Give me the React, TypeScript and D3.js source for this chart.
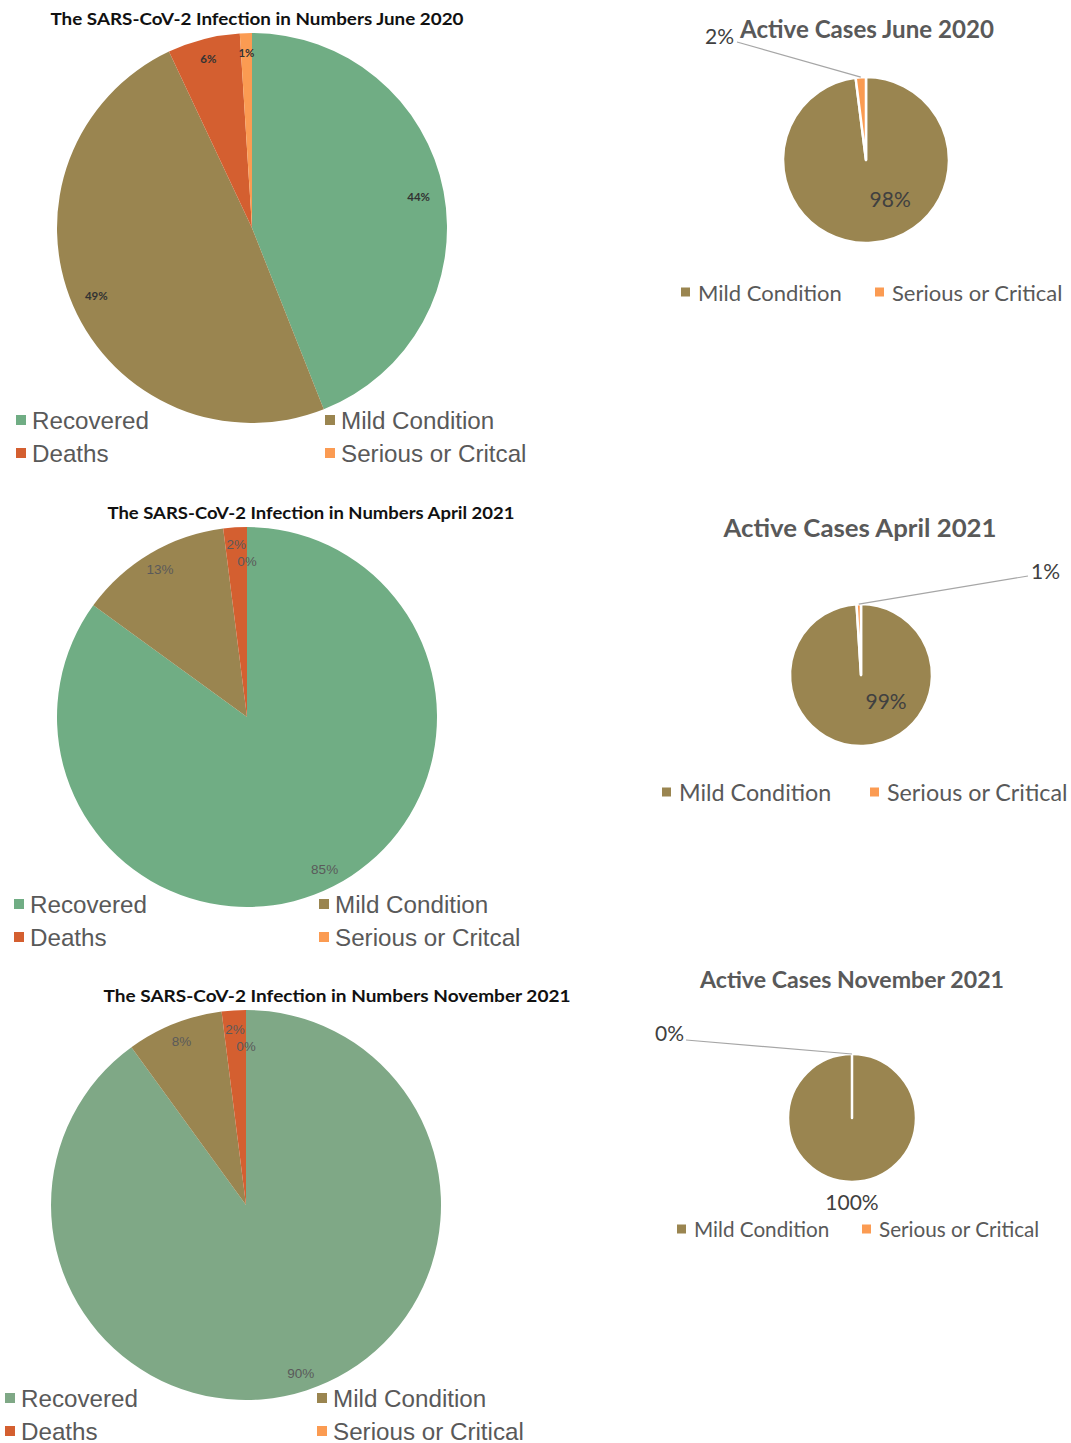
import * as d3 from 'd3';

// infection breakdown, % of total cases
const infectionCategories = ['Recovered', 'Mild Condition', 'Deaths', 'Serious or Critcal'];
const infectionCategoriesNov = ['Recovered', 'Mild Condition', 'Deaths', 'Serious or Critical'];
const infectionJun2020 = [44, 49, 6, 1];
const infectionApr2021 = [85, 13, 2, 0];
const infectionNov2021 = [90, 8, 2, 0];

// active cases breakdown
const activeCategories = ['Mild Condition', 'Serious or Critical'];
const activeJun2020 = [98, 2];
const activeApr2021 = [99, 1];
const activeNov2021 = [100, 0];

const GREEN = '#70ad84';
const OLIVE = '#9a8550';
const RED = '#d45f30';
const ORANGE = '#fb9b52';
const GREY = '#595959';

const pie = d3.pie<number>().sort(null).value((d) => d);

const pt = (cx: number, cy: number, r: number, a: number) => [cx + r * Math.sin(a), cy - r * Math.cos(a)];

interface InfProps {
  title: string;
  titleX: number;
  titleY: number;
  titleW: number;
  values: number[];
  cats: string[];
  cx: number;
  cy: number;
  r: number;
  green: string;
  labelR: number[];
  labelStyle: { size: number; weight: string; fill: string; font: string };
  leg: { x1: number; x2: number; y1: number; y2: number };
}

const InfectionPie = (p: InfProps) => {
  const arcs = pie(p.values);
  const arc = d3.arc<d3.PieArcDatum<number>>().innerRadius(0).outerRadius(p.r);
  const colors = [p.green, OLIVE, RED, ORANGE];
  const legPos = [
    [p.leg.x1, p.leg.y1],
    [p.leg.x2, p.leg.y1],
    [p.leg.x1, p.leg.y2],
    [p.leg.x2, p.leg.y2],
  ];
  return (
    <g>
      <text x={p.titleX} y={p.titleY} textAnchor="middle" dominantBaseline="central" fontFamily="Lato" fontWeight="bold"
        fontSize={17} fill="#111" textLength={p.titleW} lengthAdjust="spacingAndGlyphs">{p.title}</text>
      <g transform={`translate(${p.cx},${p.cy})`}>
        {arcs.map((a, i) => (
          <path key={i} d={arc(a)!} fill={colors[i]} />
        ))}
        {arcs.map((a, i) => {
          const m = (a.startAngle + a.endAngle) / 2;
          const [x, y] = pt(0, 0, p.r * p.labelR[i], m);
          return (
            <text key={i} x={x} y={y} textAnchor="middle" dominantBaseline="central" fontSize={p.labelStyle.size}
              fontWeight={p.labelStyle.weight} fill={p.labelStyle.fill} fontFamily={p.labelStyle.font}>
              {p.values[i]}%
            </text>
          );
        })}
      </g>
      {p.cats.map((c, i) => (
        <g key={c} transform={`translate(${legPos[i][0]},${legPos[i][1]})`}>
          <rect x={0} y={-5} width={10} height={10} fill={colors[i]} />
          <text x={16} y={0} dominantBaseline="central" fontFamily="Liberation Sans, Arial" fontSize={24.2} fill={GREY}>{c}</text>
        </g>
      ))}
    </g>
  );
};

interface ActProps {
  title: string;
  titleY: number;
  titleX: number;
  titleW: number;
  titleSize: number;
  values: number[];
  cx: number;
  cy: number;
  r: number;
  main: { angle: number; f: number };
  small: { x: number; y: number; anchor: string; lx: number; ly: number };
  leg: { x1: number; x2: number; y: number; size: number };
}

const ActivePie = (p: ActProps) => {
  const arcs = pie(p.values);
  const arc = d3.arc<d3.PieArcDatum<number>>().innerRadius(0).outerRadius(p.r);
  const colors = [OLIVE, ORANGE];
  const [mx, my] = pt(p.cx, p.cy, p.r * p.main.f, (p.main.angle * Math.PI) / 180);
  const s = arcs[1];
  const [ex, ey] = pt(p.cx, p.cy, p.r, (s.startAngle + s.endAngle) / 2);
  return (
    <g>
      <text x={p.titleX} y={p.titleY} textAnchor="middle" dominantBaseline="central" fontFamily="Lato" fontWeight="bold"
        fontSize={p.titleSize} fill={GREY} textLength={p.titleW} lengthAdjust="spacingAndGlyphs">{p.title}</text>
      <g transform={`translate(${p.cx},${p.cy})`}>
        {arcs.map((a, i) => (
          <path key={i} d={arc(a)!} fill={colors[i]} stroke="#fff" strokeWidth={2.5} strokeLinejoin="round" />
        ))}
      </g>
      <text x={mx} y={my} textAnchor="middle" dominantBaseline="central" fontFamily="Lato" fontSize={21} fill="#404040">
        {p.values[0]}%
      </text>
      <line x1={p.small.lx} y1={p.small.ly} x2={ex} y2={ey} stroke="#a6a6a6" strokeWidth={1.2} />
      <text x={p.small.x} y={p.small.y} textAnchor={p.small.anchor as any} dominantBaseline="central" fontFamily="Lato"
        fontSize={21} fill="#404040">{p.values[1]}%</text>
      {activeCategories.map((c, i) => (
        <g key={c} transform={`translate(${i === 0 ? p.leg.x1 : p.leg.x2},${p.leg.y})`}>
          <rect x={0} y={-4.5} width={9} height={9} fill={colors[i]} />
          <text x={17} y={0} dominantBaseline="central" fontFamily="Lato" fontSize={p.leg.size} fill={GREY}>{c}</text>
        </g>
      ))}
    </g>
  );
};

const boldLbl = { size: 11.5, weight: 'bold', fill: '#333', font: 'Lato' };
const thinLbl = { size: 13.5, weight: 'normal', fill: '#5a5a5a', font: 'Liberation Sans, Arial' };

export default function App() {
  return (
    <svg width={1071} height={1443} viewBox="0 0 1071 1443" style={{ position: 'absolute', left: 0, top: 0, background: '#fff' }}>
      <rect width={1071} height={1443} fill="#fff" />
      <InfectionPie title="The SARS-CoV-2 Infection in Numbers June 2020" titleX={257} titleY={18} titleW={413}
        values={infectionJun2020} cats={infectionCategories} cx={252} cy={228} r={195} green={GREEN}
        labelR={[0.87, 0.87, 0.9, 0.9]} labelStyle={boldLbl} leg={{ x1: 16, x2: 325, y1: 420, y2: 453 }} />
      <InfectionPie title="The SARS-CoV-2 Infection in Numbers April 2021" titleX={311} titleY={512} titleW={407}
        values={infectionApr2021} cats={infectionCategories} cx={247} cy={717} r={190} green={GREEN}
        labelR={[0.9, 0.9, 0.91, 0.82]} labelStyle={thinLbl} leg={{ x1: 14, x2: 319, y1: 904, y2: 937 }} />
      <InfectionPie title="The SARS-CoV-2 Infection in Numbers November 2021" titleX={337} titleY={995} titleW={467}
        values={infectionNov2021} cats={infectionCategoriesNov} cx={246} cy={1205} r={195} green="#7fa886"
        labelR={[0.91, 0.9, 0.9, 0.815]} labelStyle={thinLbl} leg={{ x1: 5, x2: 317, y1: 1398, y2: 1431 }} />

      <ActivePie title="Active Cases June 2020" titleX={867} titleY={28} titleW={254} titleSize={24}
        values={activeJun2020} cx={866} cy={160} r={83} main={{ angle: 148, f: 0.55 }}
        small={{ x: 734, y: 35, anchor: 'end', lx: 737, ly: 42 }} leg={{ x1: 681, x2: 875, y: 292, size: 22 }} />
      <ActivePie title="Active Cases April 2021" titleX={860} titleY={527} titleW={273} titleSize={24}
        values={activeApr2021} cx={861} cy={675} r={71} main={{ angle: 135, f: 0.5 }}
        small={{ x: 1031, y: 570, anchor: 'start', lx: 1028, ly: 576 }} leg={{ x1: 662, x2: 870, y: 792, size: 23.3 }} />
      <ActivePie title="Active Cases November 2021" titleX={852} titleY={979} titleW={304} titleSize={22}
        values={activeNov2021} cx={852} cy={1118} r={64} main={{ angle: 180, f: 1.3 }}
        small={{ x: 684, y: 1032, anchor: 'end', lx: 686, ly: 1040 }} leg={{ x1: 677, x2: 862, y: 1229, size: 20.7 }} />
    </svg>
  );
}
